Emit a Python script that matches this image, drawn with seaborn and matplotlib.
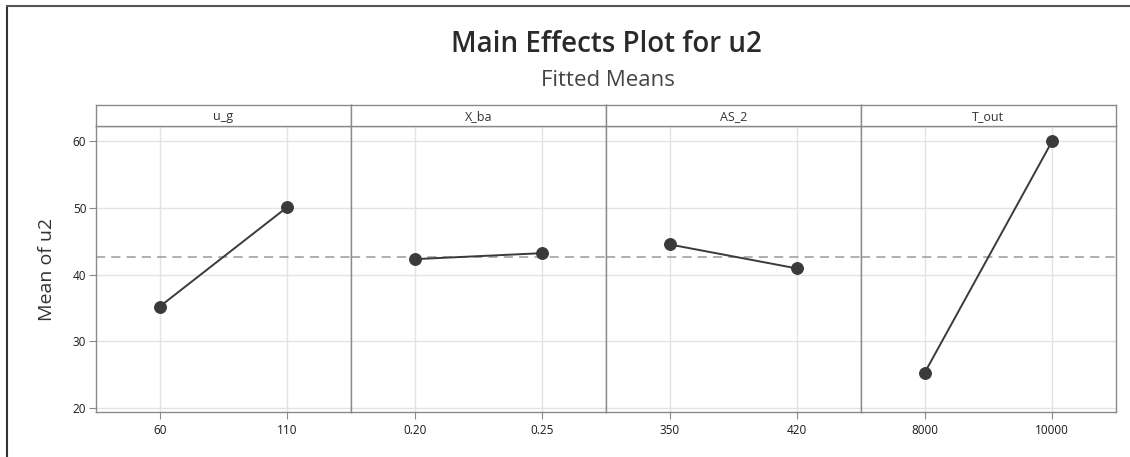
import matplotlib
matplotlib.use("Agg")
import matplotlib.pyplot as plt
from matplotlib.lines import Line2D
import seaborn as sns
import pandas as pd

sns.set_theme(style="white")
plt.rcParams['font.family'] = ['Open Sans', 'DejaVu Sans']

# ---- data ----
factors = ["u_g", "X_ba", "AS_2", "T_out"]
levels = {
    "u_g": [60, 110],
    "X_ba": [0.20, 0.25],
    "AS_2": [350, 420],
    "T_out": [8000, 10000],
}
tick_labels = {
    "u_g": ["60", "110"],
    "X_ba": ["0.20", "0.25"],
    "AS_2": ["350", "420"],
    "T_out": ["8000", "10000"],
}
means = {
    "u_g": [35.2, 50.1],
    "X_ba": [42.3, 43.2],
    "AS_2": [44.5, 40.9],
    "T_out": [25.3, 60.0],
}
overall_mean = 42.65
y_ticks = [20, 30, 40, 50, 60]

rows = []
for f in factors:
    for lv, m in zip(levels[f], means[f]):
        rows.append({"factor": f, "level": lv, "mean": m})
df = pd.DataFrame(rows)

W, H = 1130, 457
fig = plt.figure(figsize=(W / 100, H / 100), dpi=100)

left_px, right_px = 96, 1116
bottom_px, top_px, strip_top_px = 412, 126, 105
panel_w = (right_px - left_px) / 4

spine_col = "#8a8a8a"
grid_col = "#e3e3e3"
line_col = "#3a3a3a"

axes = []
for i, f in enumerate(factors):
    x0 = (left_px + i * panel_w) / W
    ax = fig.add_axes([x0, 1 - bottom_px / H, panel_w / W, (bottom_px - top_px) / H])
    axes.append(ax)
    sub = df[df["factor"] == f]
    a, b = levels[f]
    d = b - a
    ax.set_xlim(a - d / 2, b + d / 2)
    ax.set_ylim(19.4, 62.25)
    ax.set_yticks(y_ticks)
    ax.set_xticks(levels[f])
    ax.set_xticklabels(tick_labels[f])
    ax.grid(True, color=grid_col, linewidth=1.0, zorder=0)
    ax.set_axisbelow(True)
    ax.axhline(overall_mean, color="#9a9a9a", linestyle=(0, (6, 4)), linewidth=1.1, zorder=1)
    sns.lineplot(data=sub, x="level", y="mean", ax=ax, color=line_col,
                 linewidth=1.4, marker="o", markersize=8.5,
                 markeredgecolor=line_col, markerfacecolor=line_col, zorder=3)
    ax.set_xlabel("")
    ax.set_ylabel("")
    for s in ax.spines.values():
        s.set_color(spine_col)
        s.set_linewidth(1.0)
    ax.tick_params(axis="x", length=5, width=0.8, color=spine_col,
                   labelsize=8.5, labelcolor="#1a1a1a", pad=4, bottom=True)
    if i == 0:
        ax.tick_params(axis="y", length=5, width=0.8, color=spine_col,
                       labelsize=8.5, labelcolor="#1a1a1a", pad=2, left=True)
        ax.set_ylabel("Mean of u2", fontsize=14, color="#333333", labelpad=12)
    else:
        ax.tick_params(axis="y", left=False, labelleft=False)

    # strip header
    sax = fig.add_axes([x0, 1 - top_px / H, panel_w / W, (top_px - strip_top_px) / H])
    sax.set_xticks([])
    sax.set_yticks([])
    sax.set_facecolor("white")
    for s in sax.spines.values():
        s.set_color(spine_col)
        s.set_linewidth(1.0)
    sax.text(0.5, 0.45, f, ha="center", va="center", fontsize=9, color="#333333",
             transform=sax.transAxes)

fig.text(606 / W, 1 - 45 / H, "Main Effects Plot for u2", ha="center", va="center",
         fontsize=20, fontweight="semibold", color="#2a2a2a")
fig.text(608 / W, 1 - 80 / H, "Fitted Means", ha="center", va="center",
         fontsize=16, color="#444444")

# outer frame (left and top)
fig.add_artist(Line2D([7 / W, 7 / W], [0, 1 - 6 / H], color="#333333", linewidth=1.5,
                      transform=fig.transFigure))
fig.add_artist(Line2D([7 / W, 1], [1 - 6 / H, 1 - 6 / H], color="#555555", linewidth=1.5,
                      transform=fig.transFigure))

fig.savefig("out.png", dpi=100)
